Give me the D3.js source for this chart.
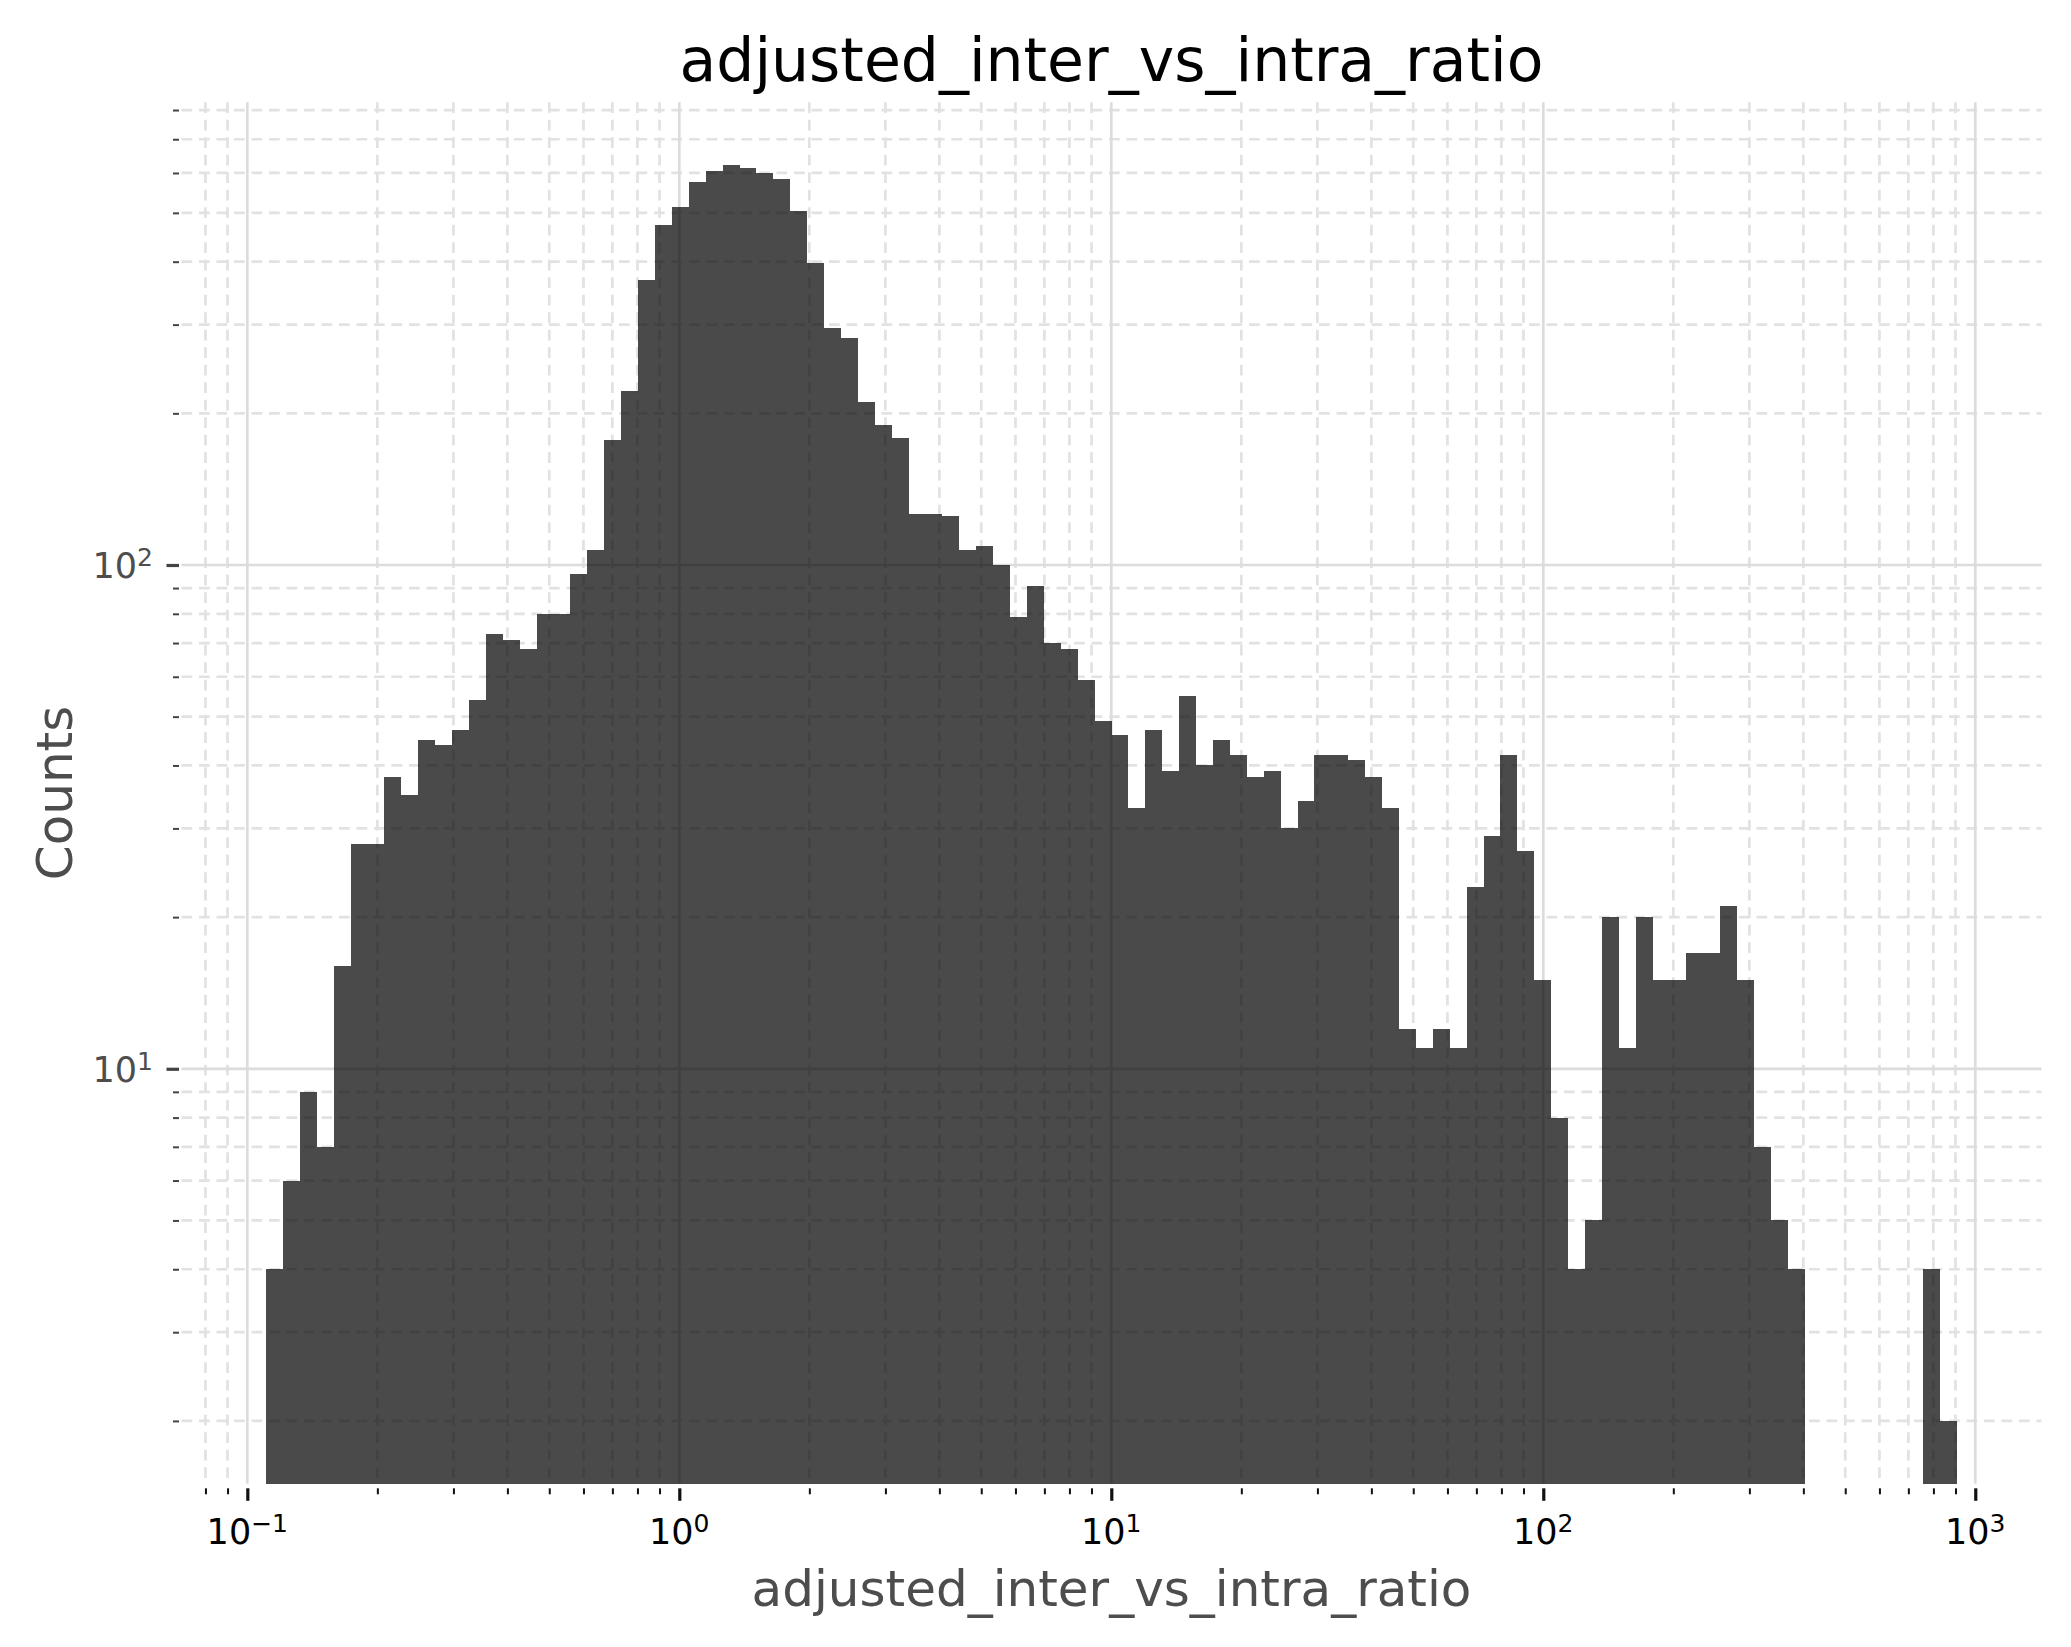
<!DOCTYPE html>
<html><head><meta charset="utf-8">
<script src="https://cdn.jsdelivr.net/npm/d3@7"></script>
<style>html,body{margin:0;padding:0;background:#fff}svg{display:block}</style>
</head><body>
<svg id="chart" width="2071" height="1647"></svg>
<script>
// ---- data ----
const counts = [4,6,9,7,16,28,28,38,35,45,44,47,54,73,71,68,80,80,96,107,
  177,222,368,474,514,577,605,622,613,601,585,505,397,295,282,211,190,179,126,126,
  125,107,109,100,79,91,70,68,59,49,46,33,47,39,55,40,45,42,38,39,
  30,34,42,42,41,38,33,12,11,12,11,23,29,42,27,15,8,4,5,20,
  11,20,15,15,17,17,21,15,7,5,4,0,0,0,0,0,0,0,4,2];
const binRange = [0.1105, 907];          // data min / max of the histogram (log-spaced bins)
const xMajorTicks = [0.1, 1, 10, 100, 1000];
const xTickExponents = ["\u22121", "0", "1", "2", "3"];
const yMajorTicks = [10, 100];
const yTickExponents = ["1", "2"];
const titleText = "adjusted_inter_vs_intra_ratio";
const xTitleText = "adjusted_inter_vs_intra_ratio";
const yTitleText = "Counts";

// ---- layout ----
const FONT = "DejaVu Sans";
const P = {left: 181.5, right: 2041.5, top: 102.3, bottom: 1483.7};
const svg = d3.select("#chart");

const n = counts.length;
const lo = Math.log10(binRange[0]), hi = Math.log10(binRange[1]);
const step = (hi - lo) / n;
const bins = counts.map((c, i) => ({x0: Math.pow(10, lo + i * step), x1: Math.pow(10, lo + (i + 1) * step), c}));

const padX = 0.05 * (hi - lo);
const x = d3.scaleLog().domain([Math.pow(10, lo - padX), Math.pow(10, hi + padX)]).range([P.left, P.right]);
const nz = counts.filter(c => c > 0);
const ylo = Math.log10(d3.min(nz)), yhi = Math.log10(d3.max(nz));
const padY = 0.05 * (yhi - ylo);
const y = d3.scaleLog().domain([Math.pow(10, ylo - padY), Math.pow(10, yhi + padY)]).range([P.bottom, P.top]);

function minors(scale) {
  const [a, b] = scale.domain(); const out = [];
  for (let e = Math.floor(Math.log10(a)); e <= Math.ceil(Math.log10(b)); e++)
    for (let m = 2; m <= 9; m++) { const v = +(m * Math.pow(10, e)).toPrecision(6); if (v >= a && v <= b) out.push(v); }
  return out;
}
const xMinor = minors(x), yMinor = minors(y);

// ---- grid ----
const grid = svg.append("g");
const gridColMinor = "#e2e2e2", gridColMajor = "#dcdcdc", gw = 2.7, dash = "10.7,6.8";
grid.selectAll(".xm").data(xMinor).join("line")
  .attr("x1", d => x(d)).attr("x2", d => x(d)).attr("y1", P.top).attr("y2", P.bottom)
  .attr("stroke", gridColMinor).attr("stroke-width", gw).attr("stroke-dasharray", dash);
grid.selectAll(".ym").data(yMinor).join("line")
  .attr("y1", d => y(d)).attr("y2", d => y(d)).attr("x1", P.left).attr("x2", P.right)
  .attr("stroke", gridColMinor).attr("stroke-width", gw).attr("stroke-dasharray", dash);
grid.selectAll(".xM").data(xMajorTicks).join("line")
  .attr("x1", d => x(d)).attr("x2", d => x(d)).attr("y1", P.top).attr("y2", P.bottom)
  .attr("stroke", gridColMajor).attr("stroke-width", gw);
grid.selectAll(".yM").data(yMajorTicks).join("line")
  .attr("y1", d => y(d)).attr("y2", d => y(d)).attr("x1", P.left).attr("x2", P.right)
  .attr("stroke", gridColMajor).attr("stroke-width", gw);

// ---- bars ----
const barG = svg.append("g").attr("opacity", 0.705);
barG.selectAll("rect").data(bins.filter(b => b.c > 0)).join("rect")
  .attr("x", d => x(d.x0)).attr("width", d => x(d.x1) - x(d.x0))
  .attr("y", d => y(d.c)).attr("height", d => P.bottom - y(d.c))
  .attr("fill", "#000").attr("shape-rendering", "crispEdges");

// ---- axes ----
function styleAxis(g, col, w) {
  g.select(".domain").remove();
  g.selectAll(".tick line").attr("stroke", col).attr("stroke-width", w);
  g.selectAll(".tick text").remove();
}
const xAxisTop = 1488.3;
svg.append("g").attr("transform", `translate(0,${xAxisTop})`)
  .call(d3.axisBottom(x).tickValues(xMinor).tickSize(6).tickSizeOuter(0).tickFormat(() => ""))
  .call(g => styleAxis(g, "#111", 2));
svg.append("g").attr("transform", `translate(0,${xAxisTop})`)
  .call(d3.axisBottom(x).tickValues(xMajorTicks).tickSize(12.5).tickSizeOuter(0).tickFormat(() => ""))
  .call(g => styleAxis(g, "#111", 3.2));
const yAxisRight = 179;
svg.append("g").attr("transform", `translate(${yAxisRight},0)`)
  .call(d3.axisLeft(y).tickValues(yMinor).tickSize(6).tickSizeOuter(0).tickFormat(() => ""))
  .call(g => styleAxis(g, "#444", 2));
svg.append("g").attr("transform", `translate(${yAxisRight},0)`)
  .call(d3.axisLeft(y).tickValues(yMajorTicks).tickSize(12.5).tickSizeOuter(0).tickFormat(() => ""))
  .call(g => styleAxis(g, "#444", 3.2));

// tick labels (10^k)
const tickFs = 35, supFs = 25, supRaise = 11.5;
xMajorTicks.forEach((v, i) => {
  const t = svg.append("text").attr("x", x(v)).attr("y", 1543.5)
    .attr("text-anchor", "middle").attr("font-family", FONT).attr("font-size", tickFs).attr("fill", "#000");
  t.append("tspan").text("10");
  t.append("tspan").attr("dy", -supRaise).attr("font-size", supFs).text(xTickExponents[i]);
});
yMajorTicks.forEach((v, i) => {
  const t = svg.append("text").attr("x", 153).attr("y", y(v) + 13)
    .attr("text-anchor", "end").attr("font-family", FONT).attr("font-size", tickFs).attr("fill", "#4d4d4d");
  t.append("tspan").text("10");
  t.append("tspan").attr("dy", -supRaise).attr("font-size", supFs).text(yTickExponents[i]);
});

// ---- titles ----
const cx = (P.left + P.right) / 2;
svg.append("text").attr("x", cx).attr("y", 81).attr("text-anchor", "middle")
  .attr("font-family", FONT).attr("font-size", 60).attr("fill", "#000").text(titleText);
svg.append("text").attr("x", cx).attr("y", 1606).attr("text-anchor", "middle")
  .attr("font-family", FONT).attr("font-size", 50).attr("fill", "#4d4d4d").text(xTitleText);
svg.append("text").attr("transform", `translate(72,${(P.top + P.bottom) / 2}) rotate(-90)`)
  .attr("text-anchor", "middle").attr("font-family", FONT).attr("font-size", 50).attr("fill", "#4d4d4d").text(yTitleText);
</script>
</body></html>
